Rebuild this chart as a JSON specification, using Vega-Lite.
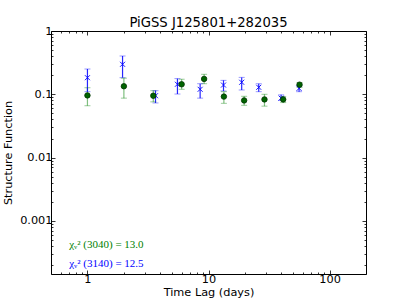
{
  "$schema": "https://vega.github.io/schema/vega-lite/v6.json",
  "width": 315,
  "height": 243,
  "autosize": "none",
  "padding": {"left": 51, "top": 31, "right": 41, "bottom": 31},
  "background": "white",
  "title": {"text": "PiGSS J125801+282035", "font": "DejaVu Sans", "fontSize": 13.2, "fontWeight": "normal", "color": "black", "offset": -5},
  "config": {
    "view": {"stroke": "black", "strokeWidth": 1},
    "axis": {"domain": false, "grid": false, "labelFont": "DejaVu Sans", "labelFontSize": 11.3, "labelColor": "black", "titleFont": "DejaVu Sans", "titleFontSize": 11.3, "titleFontWeight": "normal", "titleColor": "black", "tickColor": "black", "tickWidth": 0.8}
  },
  "datasets": {
    "sf": [
      {"series": "g", "lag": 1.0, "sf": 0.096, "lo": 0.066, "hi": 0.127},
      {"series": "g", "lag": 2.0, "sf": 0.134, "lo": 0.087, "hi": 0.18},
      {"series": "g", "lag": 3.5, "sf": 0.095, "lo": 0.076, "hi": 0.114},
      {"series": "g", "lag": 6.0, "sf": 0.144, "lo": 0.12, "hi": 0.173},
      {"series": "g", "lag": 9.2, "sf": 0.175, "lo": 0.147, "hi": 0.207},
      {"series": "g", "lag": 13.4, "sf": 0.092, "lo": 0.072, "hi": 0.11},
      {"series": "g", "lag": 19.7, "sf": 0.08, "lo": 0.067, "hi": 0.093},
      {"series": "g", "lag": 29, "sf": 0.083, "lo": 0.065, "hi": 0.1},
      {"series": "g", "lag": 41.4, "sf": 0.083, "lo": 0.074, "hi": 0.092},
      {"series": "g", "lag": 56.5, "sf": 0.142, "lo": 0.129, "hi": 0.153},
      {"series": "b", "lag": 1.0, "sf": 0.183, "lo": 0.11, "hi": 0.251},
      {"series": "b", "lag": 1.95, "sf": 0.298, "lo": 0.183, "hi": 0.403},
      {"series": "b", "lag": 3.65, "sf": 0.095, "lo": 0.073, "hi": 0.114},
      {"series": "b", "lag": 5.54, "sf": 0.144, "lo": 0.101, "hi": 0.177},
      {"series": "b", "lag": 8.53, "sf": 0.12, "lo": 0.087, "hi": 0.147},
      {"series": "b", "lag": 13.3, "sf": 0.14, "lo": 0.113, "hi": 0.166},
      {"series": "b", "lag": 18.8, "sf": 0.155, "lo": 0.117, "hi": 0.185},
      {"series": "b", "lag": 26, "sf": 0.129, "lo": 0.11, "hi": 0.147},
      {"series": "b", "lag": 39.8, "sf": 0.087, "lo": 0.08, "hi": 0.098},
      {"series": "b", "lag": 56, "sf": 0.124, "lo": 0.11, "hi": 0.137}
    ],
    "notes": [
      {"series": "g", "lag": 0.706, "sf": 0.000424, "label": "χᵥ² (3040) = 13.0"},
      {"series": "b", "lag": 0.706, "sf": 0.000212, "label": "χᵥ² (3140) = 12.5"}
    ]
  },
  "layer": [
    {
      "data": {"name": "sf"},
      "mark": {"type": "rule", "strokeWidth": 1.2},
      "encoding": {
        "x": {"field": "lag", "type": "quantitative", "scale": {"type": "log", "domain": [0.5, 200], "nice": false},
          "axis": {"orient": "top", "labels": false, "title": null, "values": [0.5,0.6,0.7,0.8,0.9,1,2,3,4,5,6,7,8,9,10,20,30,40,50,60,70,80,90,100,200],
            "tickSize": {"condition": {"test": "datum.value == 1 || datum.value == 10 || datum.value == 100", "value": -4}, "value": -2}}},
        "y": {"field": "lo", "type": "quantitative", "scale": {"type": "log", "domain": [0.000145, 1], "nice": false},
          "axis": {"orient": "right", "labels": false, "title": null, "values": [0.0002,0.0003,0.0004,0.0005,0.0006,0.0007,0.0008,0.0009,0.001,0.002,0.003,0.004,0.005,0.006,0.007,0.008,0.009,0.01,0.02,0.03,0.04,0.05,0.06,0.07,0.08,0.09,0.1,0.2,0.3,0.4,0.5,0.6,0.7,0.8,0.9,1],
            "tickSize": {"condition": {"test": "datum.value == 1 || datum.value == 0.1 || datum.value == 0.01 || datum.value == 0.001", "value": -4}, "value": -2}}},
        "y2": {"field": "hi"},
        "color": {"field": "series", "type": "nominal", "scale": {"domain": ["g", "b"], "range": ["#008000", "#0000ff"]}, "legend": null},
        "opacity": {"field": "series", "type": "nominal", "scale": {"domain": ["g", "b"], "range": [0.5, 0.85]}, "legend": null}
      }
    },
    {
      "data": {"name": "sf"},
      "mark": {"type": "tick", "orient": "horizontal", "thickness": 1, "size": 6},
      "encoding": {
        "x": {"field": "lag", "type": "quantitative", "axis": null},
        "y": {"field": "lo", "type": "quantitative", "axis": null},
        "color": {"field": "series", "type": "nominal", "legend": null},
        "opacity": {"value": 0.4}
      }
    },
    {
      "data": {"name": "sf"},
      "mark": {"type": "tick", "orient": "horizontal", "thickness": 1, "size": 6},
      "encoding": {
        "x": {"field": "lag", "type": "quantitative", "axis": null},
        "y": {"field": "hi", "type": "quantitative", "axis": null},
        "color": {"field": "series", "type": "nominal", "legend": null},
        "opacity": {"value": 0.4}
      }
    },
    {
      "data": {"name": "sf"},
      "transform": [{"filter": "datum.series == 'b'"}],
      "mark": {"type": "point", "shape": "M-1,-1L1,1M-1,1L1,-1", "filled": false, "stroke": "#0000ff", "strokeWidth": 1, "size": 25, "opacity": 0.9},
      "encoding": {
        "x": {"field": "lag", "type": "quantitative", "axis": null},
        "y": {"field": "sf", "type": "quantitative", "axis": null}
      }
    },
    {
      "data": {"name": "sf"},
      "transform": [{"filter": "datum.series == 'g'"}],
      "mark": {"type": "point", "shape": "circle", "filled": true, "fill": "#006400", "stroke": "#003300", "strokeWidth": 0.8, "size": 30, "opacity": 1},
      "encoding": {
        "x": {"field": "lag", "type": "quantitative",
          "axis": {"orient": "bottom", "title": "Time Lag (days)", "titlePadding": 2, "labelPadding": 3, "format": "~g", "values": [0.5,0.6,0.7,0.8,0.9,1,2,3,4,5,6,7,8,9,10,20,30,40,50,60,70,80,90,100,200],
            "labelExpr": "datum.value == 1 || datum.value == 10 || datum.value == 100 ? datum.label : ''",
            "tickSize": {"condition": {"test": "datum.value == 1 || datum.value == 10 || datum.value == 100", "value": -4}, "value": -2}}},
        "y": {"field": "sf", "type": "quantitative",
          "axis": {"orient": "left", "title": "Structure Function", "titlePadding": 6, "labelPadding": 3, "format": "~g", "values": [0.0002,0.0003,0.0004,0.0005,0.0006,0.0007,0.0008,0.0009,0.001,0.002,0.003,0.004,0.005,0.006,0.007,0.008,0.009,0.01,0.02,0.03,0.04,0.05,0.06,0.07,0.08,0.09,0.1,0.2,0.3,0.4,0.5,0.6,0.7,0.8,0.9,1],
            "labelExpr": "datum.value == 1 || datum.value == 0.1 || datum.value == 0.01 || datum.value == 0.001 ? datum.label : ''",
            "tickSize": {"condition": {"test": "datum.value == 1 || datum.value == 0.1 || datum.value == 0.01 || datum.value == 0.001", "value": -4}, "value": -2}}}
      }
    },
    {
      "data": {"name": "notes"},
      "mark": {"type": "text", "align": "left", "baseline": "middle", "font": "Liberation Serif", "fontSize": 11},
      "encoding": {
        "x": {"field": "lag", "type": "quantitative", "axis": null},
        "y": {"field": "sf", "type": "quantitative", "axis": null},
        "text": {"field": "label"},
        "color": {"field": "series", "type": "nominal", "legend": null}
      }
    }
  ],
  "resolve": {"axis": {"x": "independent", "y": "independent"}}
}
